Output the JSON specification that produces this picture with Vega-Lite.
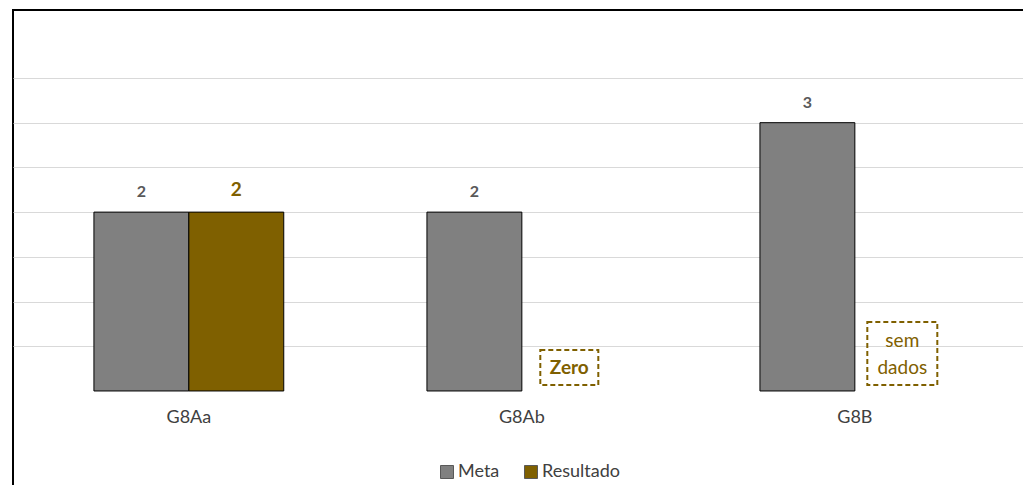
{
  "$schema": "https://vega.github.io/schema/vega-lite/v6.json",
  "autosize": {"type": "none"},
  "padding": {"left": 13, "top": 10, "right": 0, "bottom": 0},
  "width": 1020,
  "height": 490,
  "background": "white",
  "config": {
    "view": {"stroke": "#000000", "strokeWidth": 2},
    "font": "Lato"
  },
  "data": {
    "values": [
      {"grupo": "G8Aa", "serie": "Meta", "valor": 2},
      {"grupo": "G8Aa", "serie": "Resultado", "valor": 2},
      {"grupo": "G8Ab", "serie": "Meta", "valor": 2},
      {"grupo": "G8Ab", "serie": "Resultado", "valor": 0, "nota": "Zero"},
      {"grupo": "G8B", "serie": "Meta", "valor": 3},
      {"grupo": "G8B", "serie": "Resultado", "valor": null, "nota": "sem dados"}
    ]
  },
  "encoding": {
    "x": {
      "field": "grupo", "type": "nominal", "sort": ["G8Aa", "G8Ab", "G8B"],
      "scale": {"paddingInner": 0.43, "paddingOuter": 0.2465, "align": 0.493},
      "axis": {"title": null, "orient": "bottom", "offset": -92, "domain": false, "ticks": false, "tickSize": 0, "labelPadding": 0, "labelAngle": 0, "labelFontSize": 18, "labelColor": "#404040", "labelFont": "Lato", "labelBaseline": "top"}
    },
    "xOffset": {"field": "serie", "type": "nominal", "sort": ["Meta", "Resultado"], "scale": {"domain": ["Meta", "Resultado"], "paddingInner": 0, "paddingOuter": 0}}
  },
  "layer": [
    {
      "mark": {"type": "rule", "color": "#bfbfbf", "strokeWidth": 1},
      "encoding": {
        "y": {"datum": 0, "type": "quantitative", "scale": {"domain": [-1.219, 4.26], "nice": false, "zero": false},
          "axis": {"title": null, "values": [0.5, 1, 1.5, 2, 2.5, 3, 3.5], "labels": false, "ticks": false, "domain": false, "grid": true, "gridColor": "#d9d9d9", "gridWidth": 1}}
      }
    },
    {
      "transform": [{"filter": "datum.valor > 0"}],
      "mark": {"type": "bar", "stroke": "#000000", "strokeWidth": 1},
      "encoding": {
        "y": {"field": "valor", "type": "quantitative", "stack": null},
        "color": {
          "field": "serie", "type": "nominal",
          "scale": {"domain": ["Meta", "Resultado"], "range": ["#808080", "#7f6000"]},
          "legend": {"title": null, "orient": "none", "legendX": 425, "legendY": 453, "direction": "horizontal", "symbolType": "square", "symbolSize": 169, "symbolStrokeColor": "#595959", "symbolStrokeWidth": 1, "labelFontSize": 18, "labelColor": "#404040", "labelFont": "Lato", "labelOffset": 2, "columnPadding": 22}
        }
      }
    },
    {
      "transform": [{"filter": "datum.valor > 0 && datum.serie == 'Meta'"}],
      "mark": {"type": "text", "baseline": "alphabetic", "dy": -15, "fontSize": 16, "fontWeight": "bold", "color": "#595959", "font": "Lato"},
      "encoding": {
        "y": {"field": "valor", "type": "quantitative"},
        "text": {"field": "valor", "type": "quantitative"}
      }
    },
    {
      "transform": [{"filter": "datum.valor > 0 && datum.serie == 'Resultado'"}],
      "mark": {"type": "text", "baseline": "alphabetic", "dy": -16, "fontSize": 19, "fontWeight": "bold", "color": "#7f6000", "font": "Lato"},
      "encoding": {
        "y": {"field": "valor", "type": "quantitative"},
        "text": {"field": "valor", "type": "quantitative"}
      }
    },
    {
      "transform": [{"filter": "datum.nota == 'Zero'"}],
      "mark": {"type": "bar", "width": 58, "fillOpacity": 0, "stroke": "#7f6000", "strokeWidth": 2, "strokeDash": [5, 3]},
      "encoding": {
        "y": {"datum": 0.4585, "type": "quantitative"},
        "y2": {"datum": 0.0671}
      }
    },
    {
      "transform": [{"filter": "datum.nota == 'Zero'"}],
      "mark": {"type": "text", "baseline": "middle", "fontSize": 19, "fontWeight": "bold", "color": "#7f6000", "font": "Lato"},
      "encoding": {
        "y": {"datum": 0.257, "type": "quantitative"},
        "text": {"field": "nota"}
      }
    },
    {
      "transform": [{"filter": "datum.nota == 'sem dados'"}],
      "mark": {"type": "bar", "width": 70, "fillOpacity": 0, "stroke": "#7f6000", "strokeWidth": 2, "strokeDash": [5, 3]},
      "encoding": {
        "y": {"datum": 0.7716, "type": "quantitative"},
        "y2": {"datum": 0.0671}
      }
    },
    {
      "transform": [{"filter": "datum.nota == 'sem dados'"}],
      "mark": {"type": "text", "baseline": "middle", "fontSize": 19, "lineHeight": 27, "color": "#7f6000", "font": "Lato"},
      "encoding": {
        "y": {"datum": 0.559, "type": "quantitative"},
        "text": {"value": ["sem", "dados"]}
      }
    }
  ]
}
